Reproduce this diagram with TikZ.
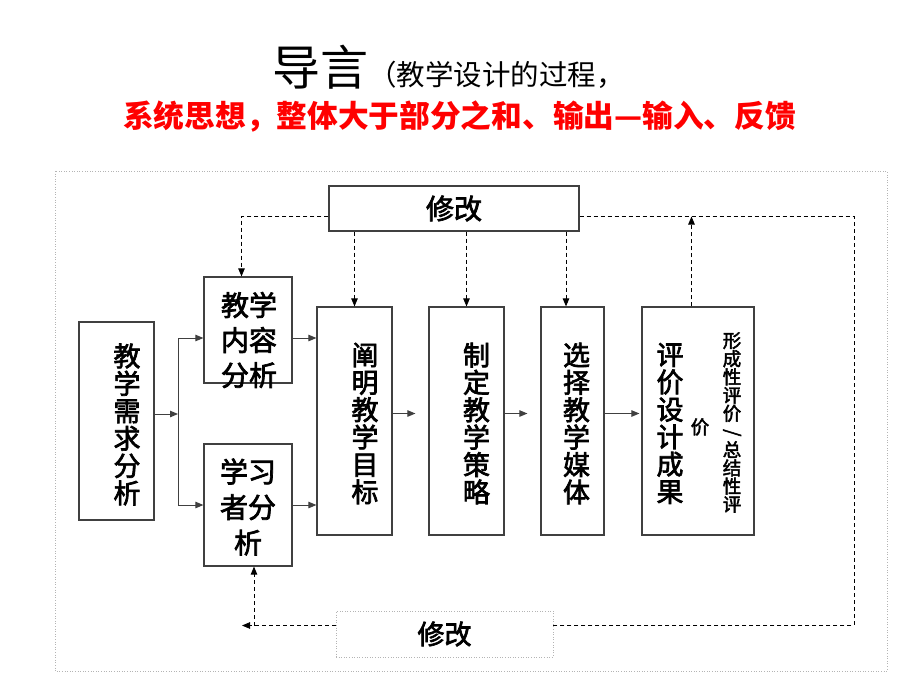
\documentclass[tikz,border=0pt]{standalone}
\usepackage{fontspec}
\setmainfont{Noto Sans CJK SC}
\newfontfamily\heifont[FakeBold=2.5]{Noto Sans CJK SC}
\usepackage{xcolor}
\usepackage{tikz}
\usetikzlibrary{arrows.meta}
\definecolor{boxgray}{HTML}{404040}
\definecolor{framegray}{HTML}{B4B4B4}
\begin{document}
\begin{tikzpicture}[x=1pt,y=1pt]
        \tikzstyle{every node}+=[inner sep=0pt]
        \tikzstyle{box}=[draw=boxgray,line width=1.2pt]
        \tikzstyle{vtext}=[align=center,font=\heifont\fontsize{27}{27.4}\selectfont]
        \tikzstyle{arr}=[draw=boxgray,line width=1pt,-{Triangle[length=8pt,width=6.5pt]}]
        \tikzstyle{dasharr}=[black,line width=0.9pt,dash pattern=on 4pt off 3pt,-{Triangle[length=8pt,width=6.5pt]}]
        \tikzstyle{dashline}=[black,line width=0.9pt,dash pattern=on 4pt off 3pt]
        \useasboundingbox (0,0) rectangle (920,-690);
        \draw [framegray,line width=0.6pt,dotted] (55,-171) rectangle (887,-671);
        \node [anchor=base west] (title) at (272,-86) {\fontsize{48}{48}\selectfont 导言\fontsize{28.5}{28.5}\selectfont （教学设计的过程，};
        \node [anchor=west,text=red,font=\fontsize{30.7}{31}\selectfont\bfseries] (idea) at (123,-117) {系统思想，整体大于部分之和、输出—输入、反馈};
        \node [box,minimum width=75pt,minimum height=198pt] (req) at (116.5,-421) {};
        \node [vtext] (reqt) at (127,-424.5) {教\\学\\需\\求\\分\\析};
        \node [box,minimum width=88pt,minimum height=106pt] (cont) at (248,-330) {};
        \node [align=center,font=\heifont\fontsize{28}{35}\selectfont] (contt) at (249,-340) {教学\\内容\\分析};
        \node [box,minimum width=88pt,minimum height=122pt] (lrn) at (248,-505) {};
        \node [align=center,font=\heifont\fontsize{28}{35.5}\selectfont] (lrnt) at (248,-507) {学习\\者分\\析};
        \node [box,minimum width=75pt,minimum height=228pt] (goal) at (354.5,-421) {};
        \node [vtext] (goalt) at (365,-423.5) {阐\\明\\教\\学\\目\\标};
        \node [box,minimum width=75pt,minimum height=228pt] (strat) at (466.5,-421) {};
        \node [vtext] (stratt) at (476.5,-423.5) {制\\定\\教\\学\\策\\略};
        \node [box,minimum width=63pt,minimum height=228pt] (media) at (572.5,-421) {};
        \node [vtext] (mediat) at (576.5,-423.5) {选\\择\\教\\学\\媒\\体};
        \node [box,minimum width=112pt,minimum height=228pt] (eval) at (698,-421) {};
        \node [vtext] (evalt) at (670,-423.5) {评\\价\\设\\计\\成\\果};
        \node [align=center,font=\heifont\fontsize{18.5}{18.2}\selectfont] (evform) at (732,-422.5) {形\\成\\性\\评\\价\\\rotatebox[origin=c]{-90}{/}\\总\\结\\性\\评};
        \node [font=\heifont\fontsize{18.5}{18.5}\selectfont] (evrest) at (700,-427) {价};
        \node [box,minimum width=250pt,minimum height=45pt,font=\heifont\fontsize{28}{28}\selectfont] (fixtop) at (454,-208.5) {\raisebox{-3pt}{修改}};
        \node [draw=framegray,line width=0.6pt,dotted,minimum width=217pt,minimum height=46pt,font=\heifont\fontsize{27}{27}\selectfont] (fixbot) at (444.5,-634) {\raisebox{-3pt}{修改}};
        \coordinate (split) at (178,-414);
        \coordinate (jtop) at (178,-338);
        \coordinate (jbot) at (178,-505);
        \coordinate (row) at (0,-413.5);
        \coordinate (tl) at (241.5,-216.5);
        \coordinate (tr) at (854,-216.5);
        \coordinate (br) at (854,-625.5);
        \coordinate (bl) at (254,-625.5);
        \coordinate (bla) at (242,-625.5);
        \coordinate (mx) at (566,-300);
        \coordinate (ex) at (691.5,-300);
        \draw [arr] (req.east |- split) -- (split);
        \draw [draw=boxgray,line width=1pt] (jtop) -- (jbot);
        \draw [arr] (jtop) -- (jtop -| cont.west);
        \draw [arr] (jbot) -- (jbot -| lrn.west);
        \draw [arr] (cont.east |- jtop) -- (goal.west |- jtop);
        \draw [arr] (lrn.east |- jbot) -- (goal.west |- jbot);
        \draw [arr,shorten >=13pt] (goal.east |- row) -- (strat.west |- row);
        \draw [arr,shorten >=13pt] (strat.east |- row) -- (media.west |- row);
        \draw [arr,shorten >=2pt] (media.east |- row) -- (eval.west |- row);
        \draw [dasharr] (fixtop.west |- tl) -- (tl) -- (tl |- cont.north);
        \draw [dasharr] (fixtop.south -| goal.north) -- (goal.north);
        \draw [dasharr] (fixtop.south -| strat.north) -- (strat.north);
        \draw [dasharr] (fixtop.south -| mx) -- (media.north -| mx);
        \draw [dasharr] (eval.north -| ex) -- (ex |- tl);
        \draw [dashline] (fixtop.east |- tr) -- (tr) -- (br) -- (fixbot.east |- br);
        \draw [dasharr] (fixbot.west |- br) -- (bla);
        \draw [dasharr] (bl) -- (lrn.south -| bl);
\end{tikzpicture}
\end{document}
